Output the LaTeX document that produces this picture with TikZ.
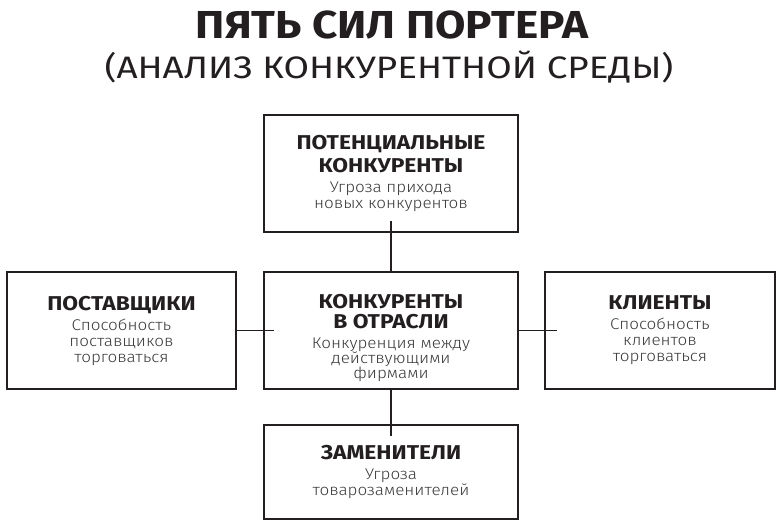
\documentclass[tikz,border=0pt]{standalone}
\usepackage{graphicx}
\usepackage{fontspec}
\setmainfont{Fira Sans}
\newfontfamily\lightfont{Fira Sans Light}
\usetikzlibrary{positioning}
\definecolor{ink}{HTML}{231F20}
\definecolor{subgray}{HTML}{3A3A3A}
\newcommand{\hdr}[1]{{\bfseries\fontsize{20}{20}\selectfont\color{ink}\scalebox{1.14}[1]{#1}}}
\newcommand{\boxsubtxt}[1]{{\lightfont\fontsize{15.5}{16}\selectfont\color{subgray}\scalebox{1.1}[1]{#1}}}
\tikzset{
  forcebox/.style={draw=ink, line width=2.6pt, rectangle, inner sep=0pt, align=center,
    font=\fontsize{15}{16}\selectfont},
  link/.style={draw=ink, line width=1.3pt},
}
\begin{document}
\begin{tikzpicture}[x=1pt,y=-1pt]
\useasboundingbox (0,0) rectangle (784,528);
\fill[white] (0,0) rectangle (784,528);
\node[font=\bfseries\fontsize{39}{40}\selectfont, text=ink, anchor=base] (title) at (392,38) {\scalebox{1.13}[1]{ПЯТЬ СИЛ ПОРТЕРА}};
\node[font=\fontsize{31}{34}\selectfont, text=ink, anchor=base] (subtitle) at (389,78) {\scalebox{1.19}[1]{(АНАЛИЗ КОНКУРЕНТНОЙ СРЕДЫ)}};

\node[forcebox, minimum width=254pt, minimum height=117pt] (pot) at (391,173.5)
  {\hdr{ПОТЕНЦИАЛЬНЫЕ}\\[4pt]\hdr{КОНКУРЕНТЫ}\\[4pt]\boxsubtxt{Угроза прихода}\\\boxsubtxt{новых конкурентов}};
\node[forcebox, minimum width=254pt, minimum height=117pt] (mid) at (391,330.5)
  {\hdr{КОНКУРЕНТЫ}\\[4pt]\hdr{В ОТРАСЛИ}\\[4pt]\boxsubtxt{Конкуренция между}\\[-1pt]\boxsubtxt{действующими}\\[-1pt]\boxsubtxt{фирмами}\\[-28pt]};
\node[forcebox, minimum width=229pt, minimum height=117pt] (sup) at (121.5,330.5)
  {\hdr{ПОСТАВЩИКИ}\\[4pt]\boxsubtxt{Способность}\\\boxsubtxt{поставщиков}\\\boxsubtxt{торговаться}};
\node[forcebox, minimum width=230pt, minimum height=117pt] (cli) at (660,330.5)
  {\hdr{КЛИЕНТЫ}\\[4pt]\boxsubtxt{Способность}\\\boxsubtxt{клиентов}\\\boxsubtxt{торговаться}};
\node[forcebox, minimum width=254pt, minimum height=94pt] (sub) at (391,472)
  {\hdr{ЗАМЕНИТЕЛИ}\\[4pt]\boxsubtxt{Угроза}\\\boxsubtxt{товарозаменителей}};

\draw[link] ([yshift=12pt]pot.south) -- (mid.north);
\draw[link] (mid.south) -- ([yshift=-12pt]sub.north);
\draw[link] (sup.east) -- ([xshift=11pt]mid.west);
\draw[link] (mid.east) -- ([xshift=13pt]cli.west);
\end{tikzpicture}
\end{document}
